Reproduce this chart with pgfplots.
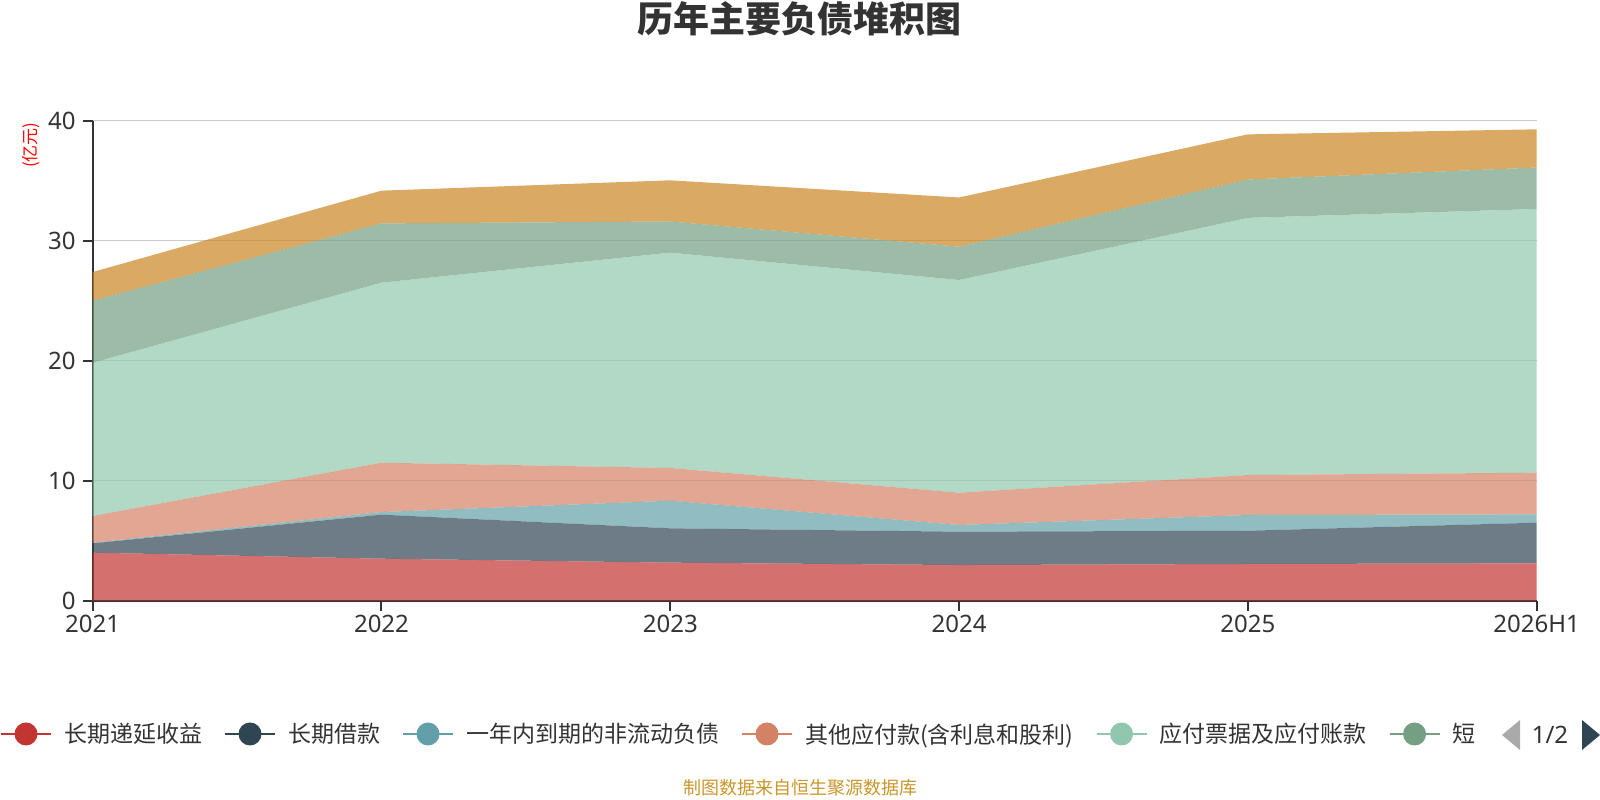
\documentclass[border=0pt]{standalone}
\usepackage{fontspec}
\setmainfont{Noto Sans}
\newfontfamily\cjk{Noto Sans CJK SC}
\usepackage{pgfplots}
\pgfplotsset{compat=1.18}
\definecolor{c1}{HTML}{C23531}
\definecolor{c2}{HTML}{2F4554}
\definecolor{c3}{HTML}{61A0A8}
\definecolor{c4}{HTML}{D48265}
\definecolor{c5}{HTML}{91C7AE}
\definecolor{c6}{HTML}{749F83}
\definecolor{c7}{HTML}{CA8622}
\definecolor{txt}{HTML}{333333}
\definecolor{gridc}{HTML}{CCCCCC}
\definecolor{foot}{HTML}{C9962B}
\definecolor{pgray}{HTML}{AAAAAA}
\pgfplotsset{
  leg/.style={legend image code/.code={
    \draw[draw=#1,line width=2bp,draw opacity=1] (0bp,0bp) -- (50bp,0bp);
    \fill[fill=#1,fill opacity=1] (25bp,0bp) circle (11.5bp);}},
  ar/.style={fill=#1, fill opacity=0.7, draw=none, leg=#1}
}
\begin{document}
\begin{tikzpicture}[x=1bp,y=1bp]
\useasboundingbox (0,0) rectangle (1600,800);
\begin{axis}[
  at={(92.7bp,199.3bp)}, anchor=south west,
  scale only axis, width=1444bp, height=480bp,
  xmin=0, xmax=5, ymin=0, ymax=40,
  stack plots=y,
  xtick={0,1,2,3,4,5},
  xticklabels={2021,2022,2023,2024,2025,2026H1},
  ytick={0,10,20,30,40},
  axis x line*=bottom, axis y line*=left,
  axis line style={draw=txt, line width=2bp, -},
  ymajorgrids=true,
  grid style={draw=gridc, line width=1.5bp},
  tick align=outside, major tick length=10bp,
  tick style={draw=txt, line width=2bp},
  /pgf/number format/assume math mode=true,
  ticklabel style={font=\fontsize{24bp}{28bp}\selectfont, text=txt},
  xticklabel style={inner sep=0pt, yshift=-4bp},
  yticklabel style={inner sep=0pt, xshift=-7bp},
  ylabel={(亿元)},
  ylabel style={at={(axis description cs:-0.0427,0.949)}, anchor=center,
    font=\cjk\fontsize{17bp}{20bp}\selectfont, text=red},
  title={历年主要负债堆积图},
  title style={at={(axis description cs:0.4898,1.1994)}, anchor=center,
    font=\cjk\bfseries\fontsize{36bp}{40bp}\selectfont, text=txt},
  legend columns=-1,
  legend style={at={(axis description cs:-0.0642,-0.2777)}, anchor=west,
    draw=none, fill=none, inner sep=0pt, outer sep=0pt,
    font=\cjk\fontsize{23bp}{27bp}\selectfont, text=txt,
    nodes={inner sep=0pt},
    /tikz/every odd column/.append style={column sep=12bp},
    /tikz/every even column/.append style={column sep=22bp}},
]
\addplot[ar=c1] coordinates {(0,4.00) (1,3.50) (2,3.17) (3,2.97) (4,3.06) (5,3.11)} \closedcycle;
\addplot[ar=c2] coordinates {(0,0.78) (1,3.67) (2,2.86) (3,2.78) (4,2.77) (5,3.39)} \closedcycle;
\addplot[ar=c3] coordinates {(0,0.05) (1,0.22) (2,2.30) (3,0.56) (4,1.31) (5,0.69)} \closedcycle;
\addplot[ar=c4] coordinates {(0,2.23) (1,4.11) (2,2.73) (3,2.69) (4,3.33) (5,3.48)} \closedcycle;
\addplot[ar=c5] coordinates {(0,12.77) (1,15.00) (2,17.94) (3,17.72) (4,21.43) (5,21.97)} \closedcycle;
\addplot[ar=c6] coordinates {(0,5.17) (1,4.94) (2,2.60) (3,2.78) (4,3.20) (5,3.46)} \closedcycle;
\addplot[ar=c7] coordinates {(0,2.39) (1,2.73) (2,3.43) (3,4.10) (4,3.76) (5,3.18)} \closedcycle;
\legend{长期递延收益,长期借款,一年内到期的非流动负债,其他应付款(含利息和股利),应付票据及应付账款,短}
\end{axis}
\fill[white] (1482,40) rectangle (1600,92);
\fill[pgray] (1502,65) -- (1520,80) -- (1520,50) -- cycle;
\fill[c2] (1582,80) -- (1600,65) -- (1582,50) -- cycle;
\node[text=txt, font=\fontsize{24bp}{28bp}\selectfont, inner sep=0pt] at (1550,65) {1/2};
\node[text=foot, font=\cjk\fontsize{18bp}{20bp}\selectfont, inner sep=0pt] at (800,12) {制图数据来自恒生聚源数据库};
\end{tikzpicture}
\end{document}
